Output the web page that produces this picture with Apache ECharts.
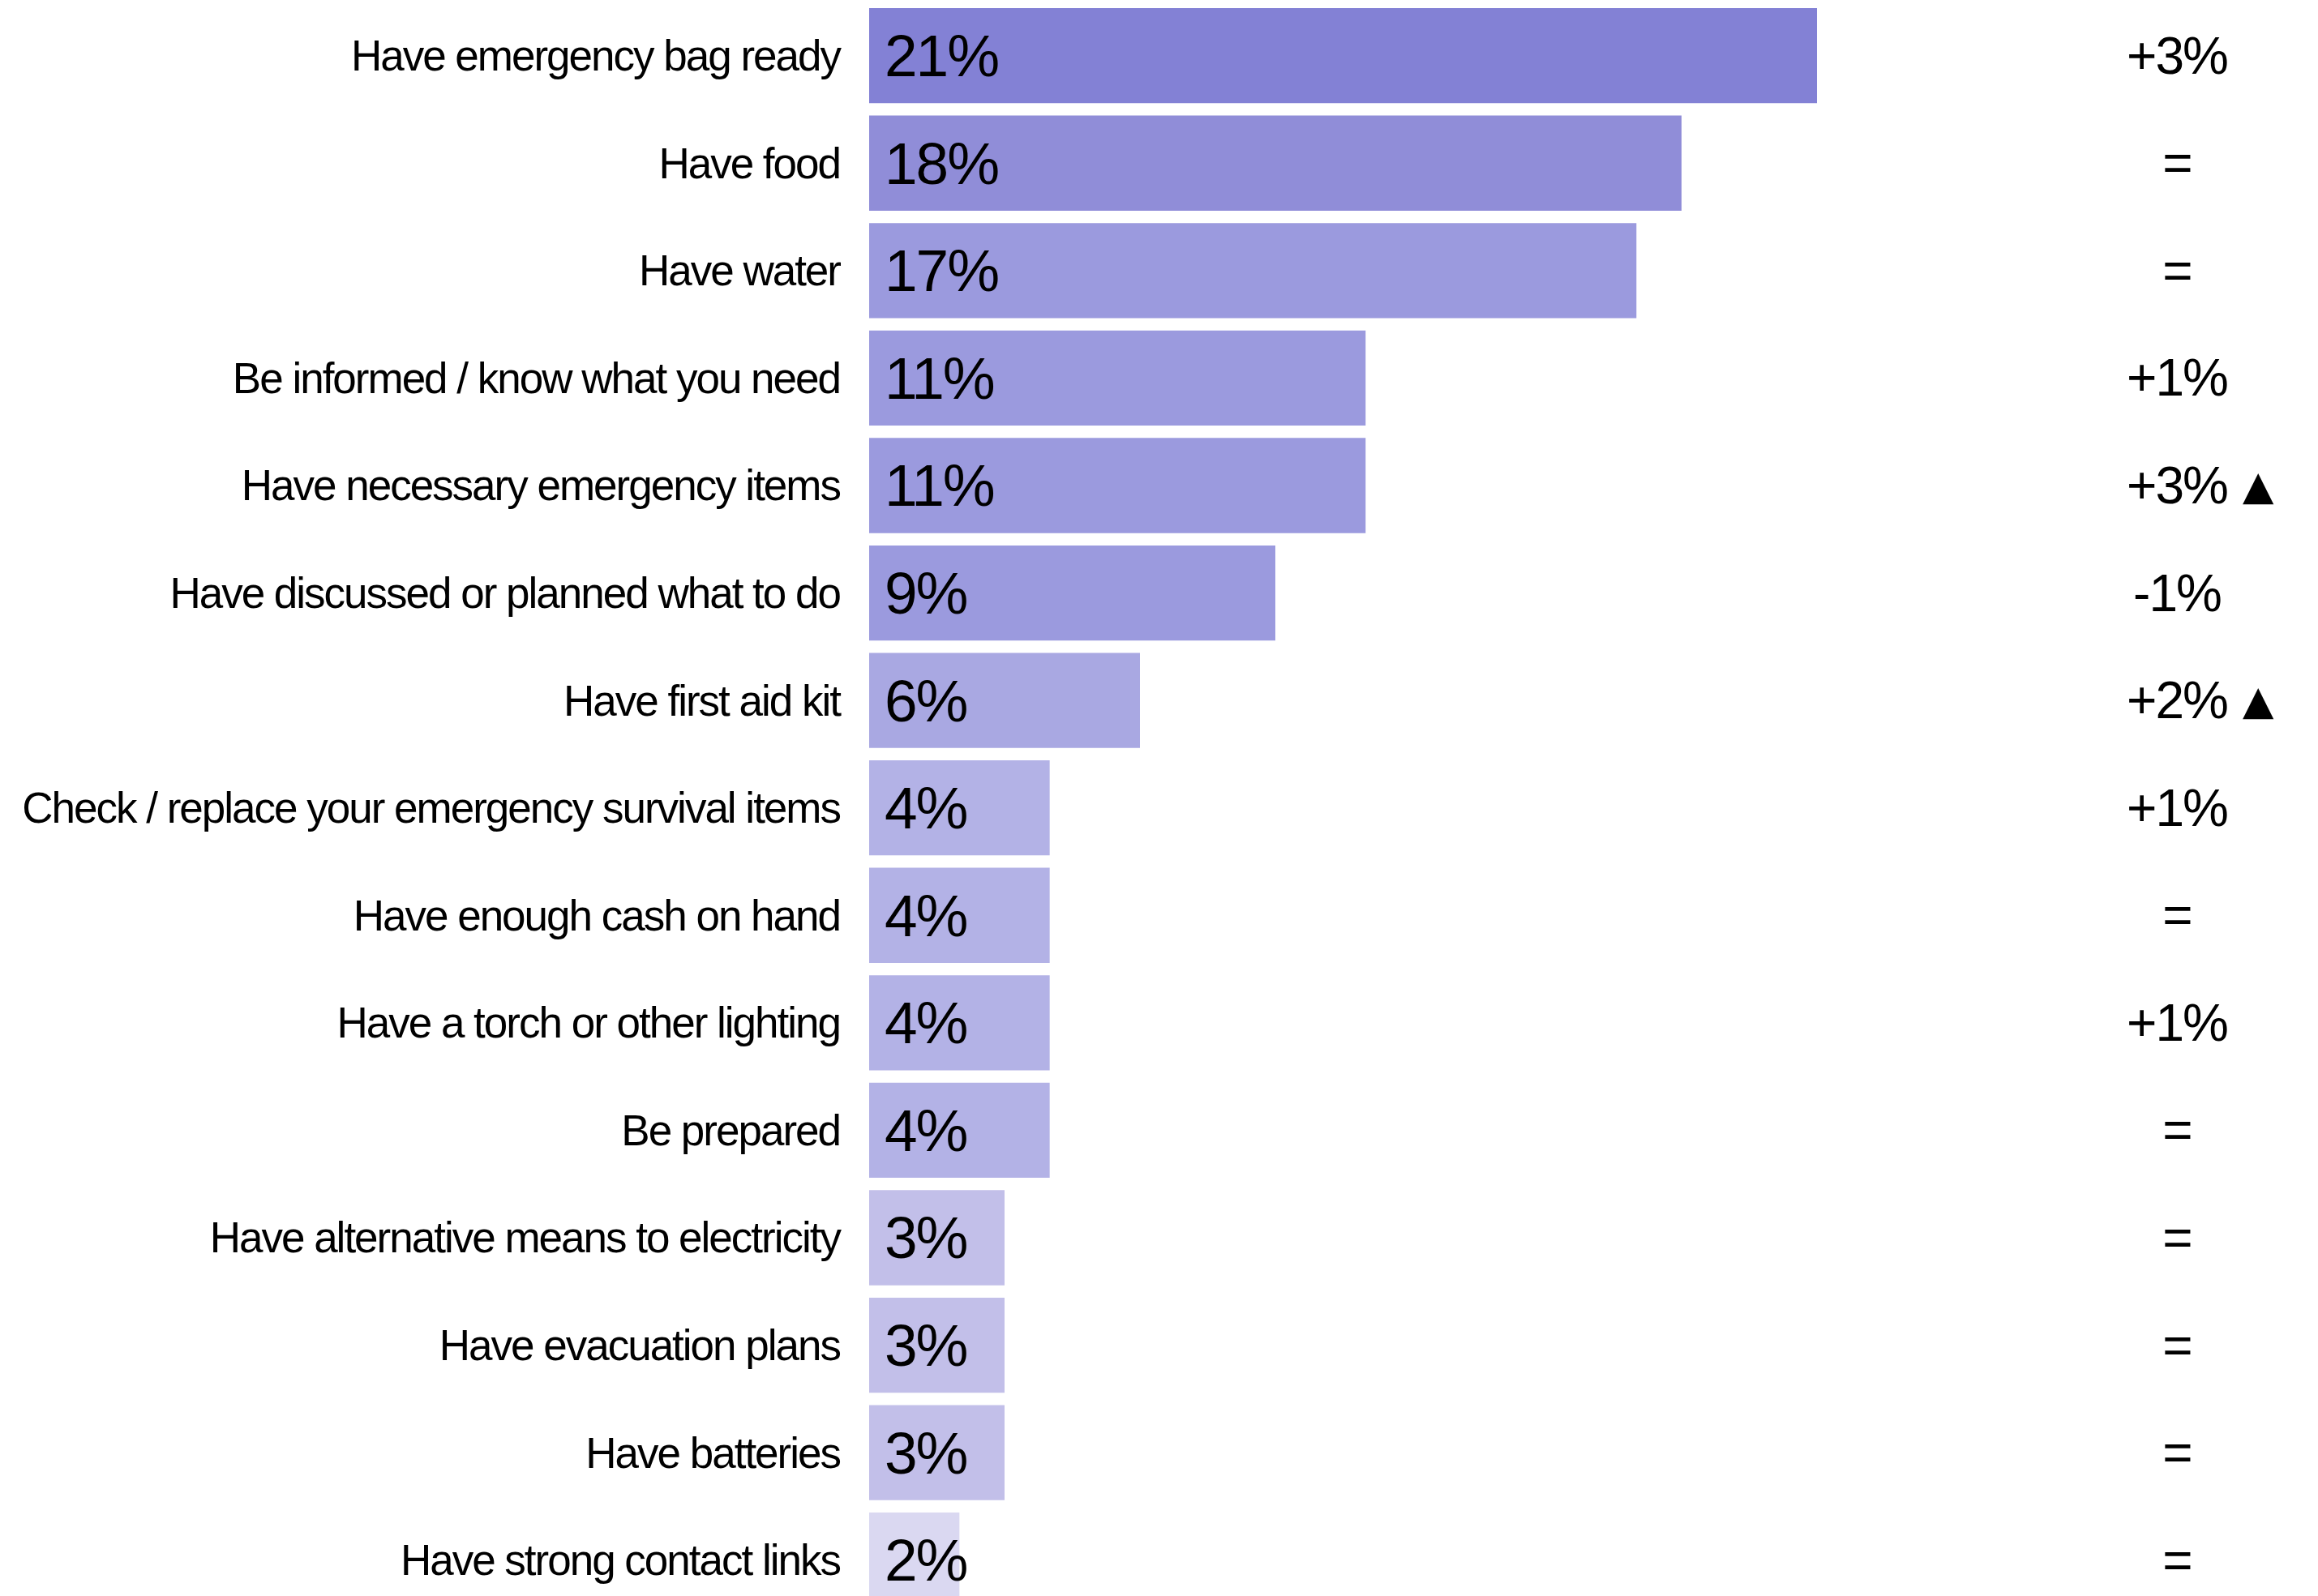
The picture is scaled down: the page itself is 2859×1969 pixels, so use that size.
<!DOCTYPE html>
<html>
<head>
<meta charset="utf-8">
<title>Emergency preparedness actions</title>
<script src="https://cdn.jsdelivr.net/npm/echarts@6/dist/echarts.min.js"></script>
<style>
  html, body { margin: 0; padding: 0; background: #ffffff; overflow: hidden; }
  #chart {
    width: 2859px;
    height: 1969px;
    /* tight tracking for every label drawn by the SVG renderer */
    letter-spacing: -2px;
  }
</style>
</head>
<body>
<div id="chart"></div>
<script>
// Actions people take, share of respondents (%)
const categories = [
  'Have emergency bag ready',
  'Have food',
  'Have water',
  'Be informed / know what you need',
  'Have necessary emergency items',
  'Have discussed or planned what to do',
  'Have first aid kit',
  'Check / replace your emergency survival items',
  'Have enough cash on hand',
  'Have a torch or other lighting',
  'Be prepared',
  'Have alternative means to electricity',
  'Have evacuation plans',
  'Have batteries',
  'Have strong contact links'
];

const shares = [21, 18, 17, 11, 11, 9, 6, 4, 4, 4, 4, 3, 3, 3, 2];

// Change versus the previous wave
const changes = ['+3%', '=', '=', '+1%', '+3%', '-1%', '+2%', '+1%', '=', '+1%', '=', '=', '=', '=', '='];

// Significant increases are flagged with a triangle
const significant = [false, false, false, false, true, false, true, false, false, false, false, false, false, false, false];

// Bar fills, darkest for the top answer
const barColors = [
  '#8381d5', '#908dd8', '#9b9ade', '#9b9ade', '#9b9ade', '#9b9ade', '#a9a8e2',
  '#b3b2e6', '#b3b2e6', '#b3b2e6', '#b3b2e6', '#c2bfe9', '#c2bfe9', '#c2bfe9', '#dad8f1'
];

const FONT = "'Liberation Sans', Arial, Helvetica, sans-serif";

const chart = echarts.init(document.getElementById('chart'), null, { renderer: 'svg' });

chart.setOption({
  backgroundColor: '#ffffff',
  animation: false,
  grid: {
    left: 1072,
    right: 284,
    top: 2.4,
    bottom: -22,
    containLabel: false,
    outerBoundsMode: 'none'
  },
  xAxis: {
    type: 'value',
    min: 0,
    max: 27,
    show: false
  },
  yAxis: [
    {
      type: 'category',
      data: categories,
      inverse: true,
      axisLine: { show: false },
      axisTick: { show: false },
      splitLine: { show: false },
      axisLabel: {
        margin: 36,
        fontFamily: FONT,
        fontSize: 53,
        color: '#000000'
      }
    },
    {
      type: 'category',
      data: categories,
      inverse: true,
      position: 'right',
      axisLine: { show: false },
      axisTick: { show: false },
      splitLine: { show: false },
      axisLabel: {
        margin: 30,
        align: 'left',
        formatter: (value, index) =>
          '{c|' + changes[index] + '}' + (significant[index] ? '{t|\u25B2}' : ''),
        rich: {
          c: {
            width: 160,
            align: 'center',
            fontFamily: FONT,
            fontSize: 64,
            color: '#000000'
          },
          t: {
            fontFamily: "'DejaVu Sans', sans-serif",
            fontSize: 50,
            color: '#000000'
          }
        }
      }
    }
  ],
  series: [
    {
      type: 'bar',
      yAxisIndex: 0,
      barCategoryGap: '11.5%',
      data: shares.map((v, i) => ({ value: v, itemStyle: { color: barColors[i] } })),
      label: {
        show: true,
        position: 'insideLeft',
        distance: 19,
        formatter: '{c}%',
        fontFamily: FONT,
        fontSize: 73,
        color: '#000000'
      }
    }
  ]
});
</script>
</body>
</html>
